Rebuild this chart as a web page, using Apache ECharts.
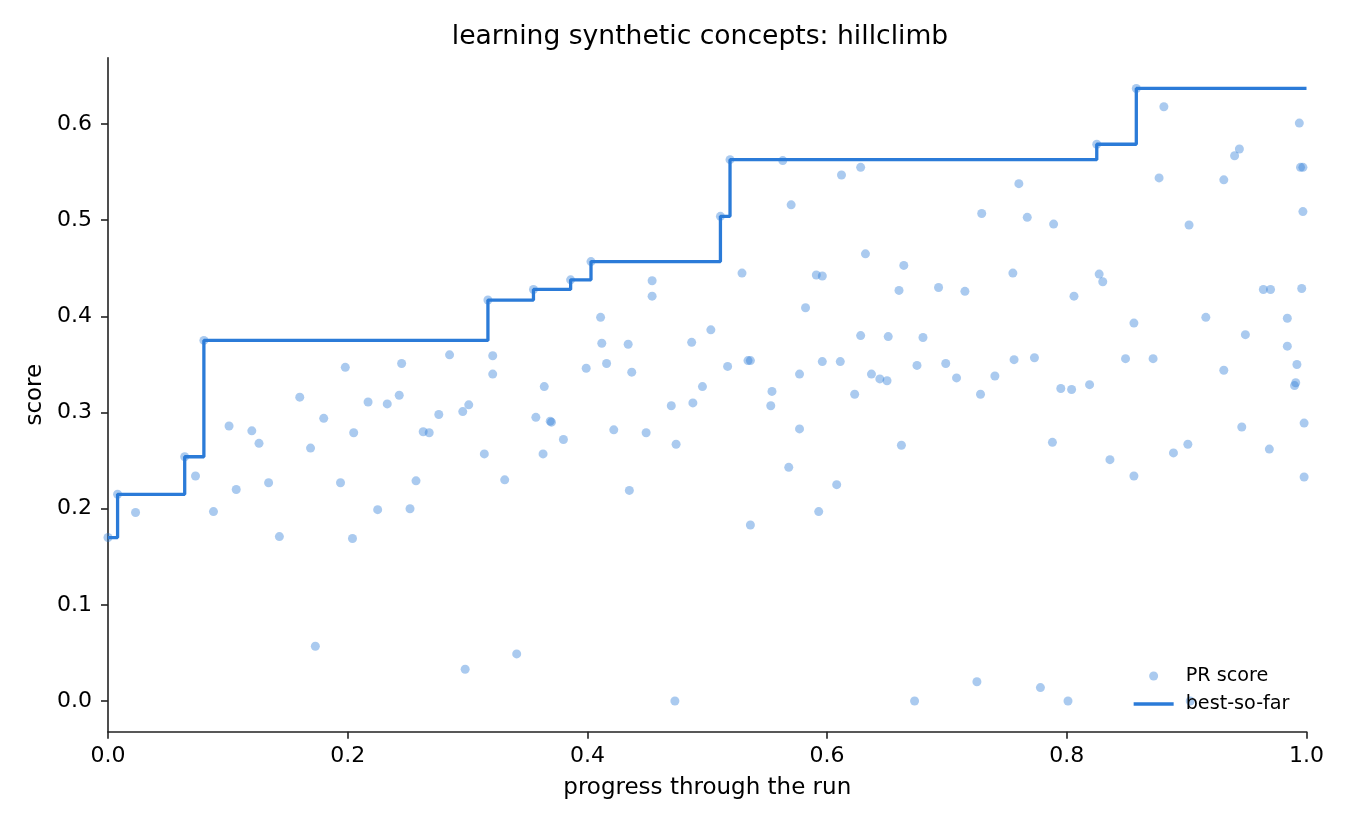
<!DOCTYPE html>
<html>
<head>
<meta charset="utf-8">
<title>learning synthetic concepts: hillclimb</title>
<script src="https://cdn.jsdelivr.net/npm/echarts@6/dist/echarts.min.js"></script>
<style>
  html, body { margin: 0; padding: 0; background: #fff; }
  #chart { width: 1350px; height: 825px; }
</style>
</head>
<body>
<div id="chart"></div>
<script>
// progress through the run (x) and PR score (y) of each candidate
var progress = [
  0.000, 0.008, 0.023, 0.064, 0.073, 0.080, 0.088, 0.101, 0.107, 0.120,
  0.126, 0.134, 0.143, 0.160, 0.169, 0.173, 0.180, 0.194, 0.198, 0.204,
  0.205, 0.217, 0.225, 0.233, 0.243, 0.245, 0.252, 0.257, 0.263, 0.268,
  0.276, 0.285, 0.296, 0.298, 0.301, 0.314, 0.317, 0.321, 0.321, 0.331,
  0.341, 0.355, 0.357, 0.363, 0.364, 0.369, 0.370, 0.380, 0.386, 0.399,
  0.403, 0.411, 0.412, 0.416, 0.422, 0.434, 0.435, 0.437, 0.449, 0.454,
  0.454, 0.470, 0.473, 0.474, 0.487, 0.488, 0.496, 0.503, 0.511, 0.517,
  0.519, 0.529, 0.534, 0.536, 0.536, 0.553, 0.554, 0.563, 0.568, 0.570,
  0.577, 0.577, 0.582, 0.591, 0.593, 0.596, 0.596, 0.608, 0.611, 0.612,
  0.623, 0.628, 0.628, 0.632, 0.637, 0.644, 0.650, 0.651, 0.660, 0.662,
  0.664, 0.673, 0.675, 0.680, 0.693, 0.699, 0.708, 0.715, 0.725, 0.728,
  0.729, 0.740, 0.755, 0.756, 0.760, 0.767, 0.773, 0.778, 0.788, 0.789,
  0.795, 0.801, 0.804, 0.806, 0.819, 0.825, 0.827, 0.830, 0.836, 0.849,
  0.856, 0.856, 0.858, 0.872, 0.877, 0.881, 0.889, 0.901, 0.902, 0.903,
  0.916, 0.931, 0.931, 0.940, 0.944, 0.946, 0.949, 0.964, 0.969, 0.970,
  0.984, 0.984, 0.990, 0.991, 0.992, 0.994, 0.995, 0.996, 0.997, 0.997,
  0.998, 0.998
];
var prScore = [
  0.170, 0.215, 0.196, 0.254, 0.234, 0.375, 0.197, 0.286, 0.220, 0.281,
  0.268, 0.227, 0.171, 0.316, 0.263, 0.057, 0.294, 0.227, 0.347, 0.169,
  0.279, 0.311, 0.199, 0.309, 0.318, 0.351, 0.200, 0.229, 0.280, 0.279,
  0.298, 0.360, 0.301, 0.033, 0.308, 0.257, 0.417, 0.359, 0.340, 0.230,
  0.049, 0.428, 0.295, 0.257, 0.327, 0.291, 0.290, 0.272, 0.438, 0.346,
  0.457, 0.399, 0.372, 0.351, 0.282, 0.371, 0.219, 0.342, 0.279, 0.437,
  0.421, 0.307, 0.000, 0.267, 0.373, 0.310, 0.327, 0.386, 0.504, 0.348,
  0.563, 0.445, 0.354, 0.354, 0.183, 0.307, 0.322, 0.562, 0.243, 0.516,
  0.340, 0.283, 0.409, 0.443, 0.197, 0.442, 0.353, 0.225, 0.353, 0.547,
  0.319, 0.555, 0.380, 0.465, 0.340, 0.335, 0.333, 0.379, 0.427, 0.266,
  0.453, 0.000, 0.349, 0.378, 0.430, 0.351, 0.336, 0.426, 0.020, 0.319,
  0.507, 0.338, 0.445, 0.355, 0.538, 0.503, 0.357, 0.014, 0.269, 0.496,
  0.325, 0.000, 0.324, 0.421, 0.329, 0.579, 0.444, 0.436, 0.251, 0.356,
  0.393, 0.234, 0.637, 0.356, 0.544, 0.618, 0.258, 0.267, 0.495, 0.000,
  0.399, 0.542, 0.344, 0.567, 0.574, 0.285, 0.381, 0.428, 0.262, 0.428,
  0.398, 0.369, 0.328, 0.331, 0.350, 0.601, 0.555, 0.429, 0.509, 0.555,
  0.289, 0.233
];
var xTicks = [0, 0.2, 0.4, 0.6, 0.8, 1.0];
var yTicks = [0, 0.1, 0.2, 0.3, 0.4, 0.5, 0.6];

var FONT = 'DejaVu Sans';
var BLUE = '#2b7bd8';

// 散点数据
var scatterData = [];
for (var i = 0; i < progress.length; i++) {
  scatterData.push([progress[i], prScore[i]]);
}

// best-so-far: running max over the run
var bestData = [], best = -Infinity;
for (var j = 0; j < scatterData.length; j++) {
  if (scatterData[j][1] > best) best = scatterData[j][1];
  bestData.push([scatterData[j][0], best]);
}
bestData.push([1.0, best]);

var axisCommon = {
  axisLine: { show: true, onZero: false, lineStyle: { color: '#222', width: 1.6 } },
  axisTick: { show: true, length: 7, lineStyle: { color: '#222', width: 1.6 } },
  splitLine: { show: false },
  nameTextStyle: { color: '#000', fontFamily: FONT, fontSize: 23 }
};

var option = {
  backgroundColor: '#fff',
  animation: false,
  title: {
    text: 'learning synthetic concepts: hillclimb',
    left: 695,
    textAlign: 'center',
    top: 19,
    textStyle: { color: '#000', fontFamily: FONT, fontSize: 26.6, fontWeight: 'normal' }
  },
  legend: {
    orient: 'vertical',
    left: 1127,
    top: 661,
    itemWidth: 40,
    itemHeight: 9,
    itemGap: 8,
    selectedMode: false,
    textStyle: { color: '#000', fontFamily: FONT, fontSize: 19.2, lineHeight: 20, padding: [0, 0, 0, 7] },
    data: [
      { name: 'PR score' },
      {
        name: 'best-so-far',
        itemStyle: { opacity: 0 },
        lineStyle: { color: BLUE, width: 3.3, opacity: 1 }
      }
    ]
  },
  grid: { left: 108, right: 43.5, top: 57.7, bottom: 93.3, containLabel: false },
  xAxis: Object.assign({}, axisCommon, {
    type: 'value',
    min: 0,
    max: 1,
    interval: 0.2,
    name: 'progress through the run',
    nameLocation: 'middle',
    nameGap: 45,
    axisLabel: {
      color: '#000', fontFamily: FONT, fontSize: 22, margin: 14,
      customValues: xTicks,
      formatter: function(v) { return v.toFixed(1); }
    },
    axisTick: Object.assign({}, axisCommon.axisTick, { customValues: xTicks })
  }),
  yAxis: Object.assign({}, axisCommon, {
    type: 'value',
    min: -0.0319,
    max: 0.669,
    name: 'score',
    nameLocation: 'middle',
    nameGap: 60,
    axisLabel: {
      color: '#000', fontFamily: FONT, fontSize: 22, margin: 16,
      customValues: yTicks,
      formatter: function(v) { return v.toFixed(1); }
    },
    axisTick: Object.assign({}, axisCommon.axisTick, { customValues: yTicks })
  }),
  series: [{
    name: 'PR score',
    type: 'scatter',
    symbol: 'circle',
    symbolSize: 9,
    itemStyle: { color: BLUE, opacity: 0.4, borderWidth: 0 },
    z: 2,
    data: scatterData
  }, {
    name: 'best-so-far',
    type: 'line',
    step: 'end',
    symbol: 'none',
    showSymbol: false,
    lineStyle: { color: BLUE, width: 3.3 },
    itemStyle: { color: BLUE },
    z: 3,
    data: bestData
  }]
};

var myChart = echarts.init(document.getElementById('chart'));
myChart.setOption(option);
</script>
</body>
</html>
